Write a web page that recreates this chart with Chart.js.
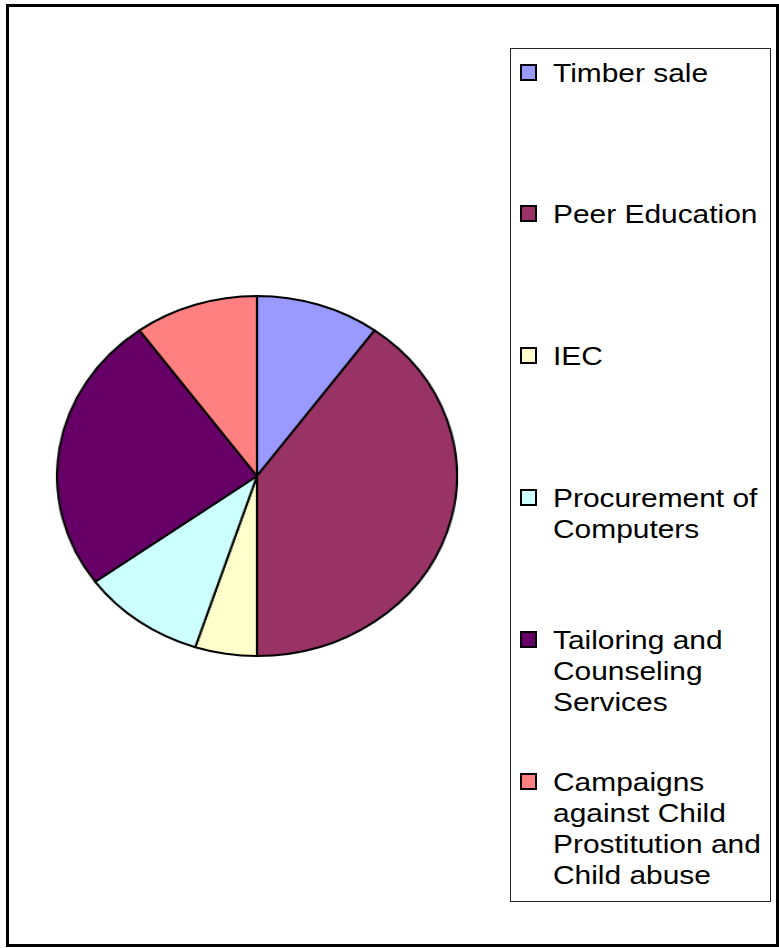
<!DOCTYPE html>
<html>
<head>
<meta charset="utf-8">
<script src="https://cdn.jsdelivr.net/npm/chart.js@4.4.0/dist/chart.umd.min.js"></script>
<style>
  html, body { margin: 0; padding: 0; background: #fff; }
  body { width: 779px; height: 948px; position: relative; overflow: hidden; font-family: "Liberation Sans", Arial, sans-serif; }
  #frame { position: absolute; left: 6px; top: 4px; width: 773px; height: 943px; box-sizing: border-box; border: 3px solid #000; }
  #pieWrap { position: absolute; left: 76px; top: 295px; width: 362px; height: 362px; transform: scaleX(1.111); transform-origin: 50% 50%; }
  #legendBox { position: absolute; left: 510px; top: 48px; width: 261px; height: 854px; box-sizing: border-box; border: 1px solid #222; }
  .item { position: absolute; left: 520px; width: 250px; }
  .marker { position: absolute; left: 0; top: 6px; width: 17px; height: 17px; box-sizing: border-box; border: 2px solid #000; }
  .label { position: absolute; left: 33px; top: 0; width: 188px; font-size: 26px; line-height: 31px; color: #000; transform: scaleX(1.15); transform-origin: 0 0; white-space: normal; }
</style>
</head>
<body>
<div id="frame"></div>
<div id="pieWrap"><canvas id="pie" width="362" height="362"></canvas></div>
<div id="legendBox"></div>
<script>
const categories = [
  'Timber sale',
  'Peer Education',
  'IEC',
  'Procurement of Computers',
  'Tailoring and Counseling Services',
  'Campaigns against Child Prostitution and Child abuse'
];
const shares = [10, 40, 5, 10, 25, 10];
const colors = ['#9999FF', '#993366', '#FFFFCC', '#CCFFFF', '#660066', '#FF8080'];

new Chart(document.getElementById('pie'), {
  type: 'pie',
  data: {
    labels: categories,
    datasets: [{
      data: shares,
      backgroundColor: colors,
      borderColor: '#000',
      borderWidth: 2
    }]
  },
  options: {
    responsive: false,
    devicePixelRatio: 1,
    animation: false,
    layout: { padding: 0 },
    plugins: { legend: { display: false }, tooltip: { enabled: false } }
  }
});

// HTML legend built from the same arrays
const firstTop = 57.5, step = 141.8;
categories.forEach((name, i) => {
  const item = document.createElement('div');
  item.className = 'item';
  item.style.top = (firstTop + i * step) + 'px';
  const m = document.createElement('div');
  m.className = 'marker';
  m.style.background = colors[i];
  const t = document.createElement('div');
  t.className = 'label';
  t.textContent = name;
  item.appendChild(m);
  item.appendChild(t);
  document.body.appendChild(item);
});
</script>
</body>
</html>
